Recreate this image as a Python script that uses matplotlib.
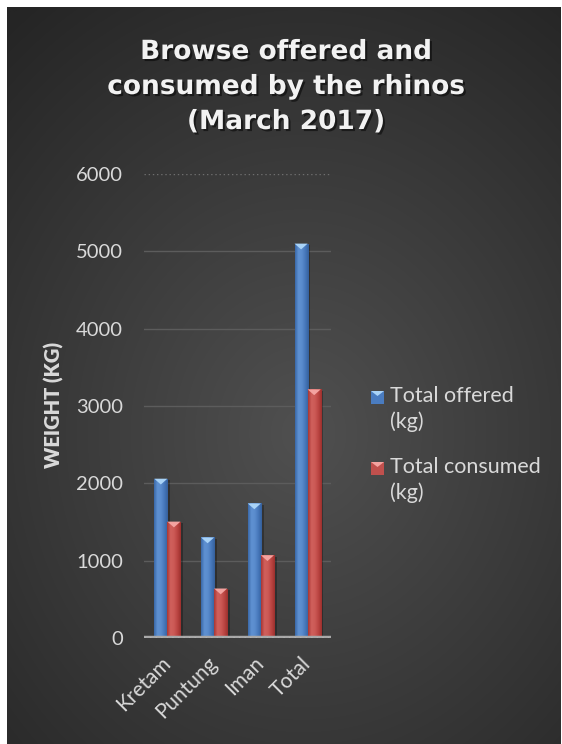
import numpy as np
import matplotlib
matplotlib.use("Agg")
import matplotlib.pyplot as plt
import matplotlib.patheffects as pe
from matplotlib.patches import Rectangle, Polygon
from matplotlib.colors import LinearSegmentedColormap

# ---- data ----
categories = ["Kretam", "Puntung", "Iman", "Total"]
offered = [2060, 1300, 1740, 5100]
consumed = [1505, 640, 1070, 3215]
series_names = ["Total offered\n(kg)", "Total consumed\n(kg)"]
yticks = [0, 1000, 2000, 3000, 4000, 5000, 6000]
title = "Browse offered and\nconsumed by the rhinos\n(March 2017)"
ylabel = "WEIGHT (KG)"

plt.rcParams["font.family"] = ["Lato", "DejaVu Sans"]

W, H = 562, 744
fig = plt.figure(figsize=(W / 100, H / 100), dpi=100)
fig.patch.set_facecolor("white")

# ---- radial gradient background panel ----
bx0, by_top = 7 / W, 7 / H
bg = fig.add_axes([bx0, 0, 1 - bx0 - 1 / W, 1 - by_top], zorder=-5)
bg.set_axis_off()
yy, xx = np.mgrid[0:H, 0:W]
r = np.sqrt(((xx - 300) / 1.0) ** 2 + ((yy - 430) / 1.15) ** 2)
t = np.clip(r / 470, 0, 1)
c_in = np.array([0x50, 0x50, 0x50]) / 255
c_out = np.array([0x25, 0x25, 0x25]) / 255
img = c_in[None, None, :] * (1 - t[..., None]) + c_out[None, None, :] * t[..., None]
bg.imshow(img, aspect="auto", extent=[0, 1, 0, 1], origin="upper")
bg.set_xlim(0, 1)
bg.set_ylim(0, 1)

# ---- main axes ----
ax = fig.add_axes([144 / W, 1 - 638 / H, 187 / W, 464 / H])
ax.set_facecolor("none")
for s in ax.spines.values():
    s.set_visible(False)

idx = np.arange(len(categories))
w = 0.28
blue_cmap = LinearSegmentedColormap.from_list(
    "b", ["#3a68a8", "#5f91d2", "#5a8ccd", "#4677ba", "#35609c"])
red_cmap = LinearSegmentedColormap.from_list(
    "r", ["#a83633", "#d0605c", "#cc5a56", "#bb4542", "#9c302e"])
grad = np.linspace(0, 1, 64)[None, :]

shadow = [pe.SimplePatchShadow(offset=(2, -1), shadow_rgbFace="black", alpha=0.28),
          pe.Normal()]

groups = [
    (offered, idx - w / 2, "#4a7cc0", blue_cmap, "#a9d3f7"),
    (consumed, idx + w / 2, "#c0504d", red_cmap, "#f3a3a0"),
]
cap_depth = 75
for vals, xs, col, cmap, capcol in groups:
    bars = ax.bar(xs, vals, width=w, color=col, zorder=3, linewidth=0)
    for b in bars:
        b.set_path_effects(shadow)
        x0, x1 = b.get_x(), b.get_x() + b.get_width()
        h = b.get_height()
        im = ax.imshow(grad, cmap=cmap, extent=[x0, x1, 0, h], aspect="auto",
                       zorder=3.5, interpolation="bilinear")
        im.set_clip_path(b)
        cap = Polygon([[x0, h], [x1, h], [(x0 + x1) / 2, h - cap_depth]],
                      closed=True, facecolor=capcol, edgecolor="none", zorder=4)
        ax.add_patch(cap)

# gridlines
for yv in yticks[1:-1]:
    ax.axhline(yv, color="#5c5c5c", lw=1.0, zorder=1)
ax.axhline(yticks[-1], color="#6e6e6e", lw=1.0, ls=(0, (1, 2)), zorder=1)
# baseline
ax.axhline(0, color="#a8a8a8", lw=3.2, zorder=5)
ax.axhline(0, color="#e0e0e0", lw=1.0, ls=(0, (1, 3)), zorder=6)

ax.set_xlim(-0.5, len(categories) - 0.5)
ax.set_ylim(0, 6000)
ax.set_yticks(yticks)
ax.set_yticklabels([str(v) for v in yticks])
ax.set_xticks(idx)
ax.set_xticklabels(categories, rotation=45, ha="right", va="center",
                   rotation_mode="anchor")
ax.tick_params(axis="both", length=0, colors="#d9d9d9", labelsize=14.5)
ax.tick_params(axis="x", labelsize=15, pad=16)
ax.tick_params(axis="y", pad=15)

# axis title
fig.text(54 / W, 1 - 405 / H, ylabel, rotation=90, ha="center", va="center",
         fontsize=14.5, fontweight="heavy", color="#d9d9d9")

# chart title
fig.text(286 / W, 1 - 87 / H, title, ha="center", va="center",
         fontsize=19, fontweight="bold", color="#f2f2f2",
         family="DejaVu Sans", linespacing=1.45,
         path_effects=[pe.SimplePatchShadow(offset=(1.5, -1.5), shadow_rgbFace="black",
                                            alpha=0.5), pe.Normal()])

# legend
leg_cols = [("#4a7cc0", "#a9d3f7"), ("#c0504d", "#f3a3a0")]
leg_y = [397, 468]
for name, (col, capcol), ly in zip(series_names, leg_cols, leg_y):
    ss = 13
    sx, sy = 371 / W, 1 - (ly + 7) / H
    fig.patches.append(Rectangle((sx, sy), ss / W, ss / H, transform=fig.transFigure,
                                 facecolor=col, edgecolor="none"))
    fig.patches.append(Polygon([[sx, sy + ss / H], [sx + ss / W, sy + ss / H],
                                [sx + ss / W / 2, sy + ss / H - 5 / H]],
                               closed=True, transform=fig.transFigure,
                               facecolor=capcol, edgecolor="none"))
    fig.text(390 / W, 1 - (ly - 11) / H, name, ha="left", va="top", fontsize=15.5,
             color="#d9d9d9", linespacing=1.35)

fig.savefig("out.png", dpi=100)
